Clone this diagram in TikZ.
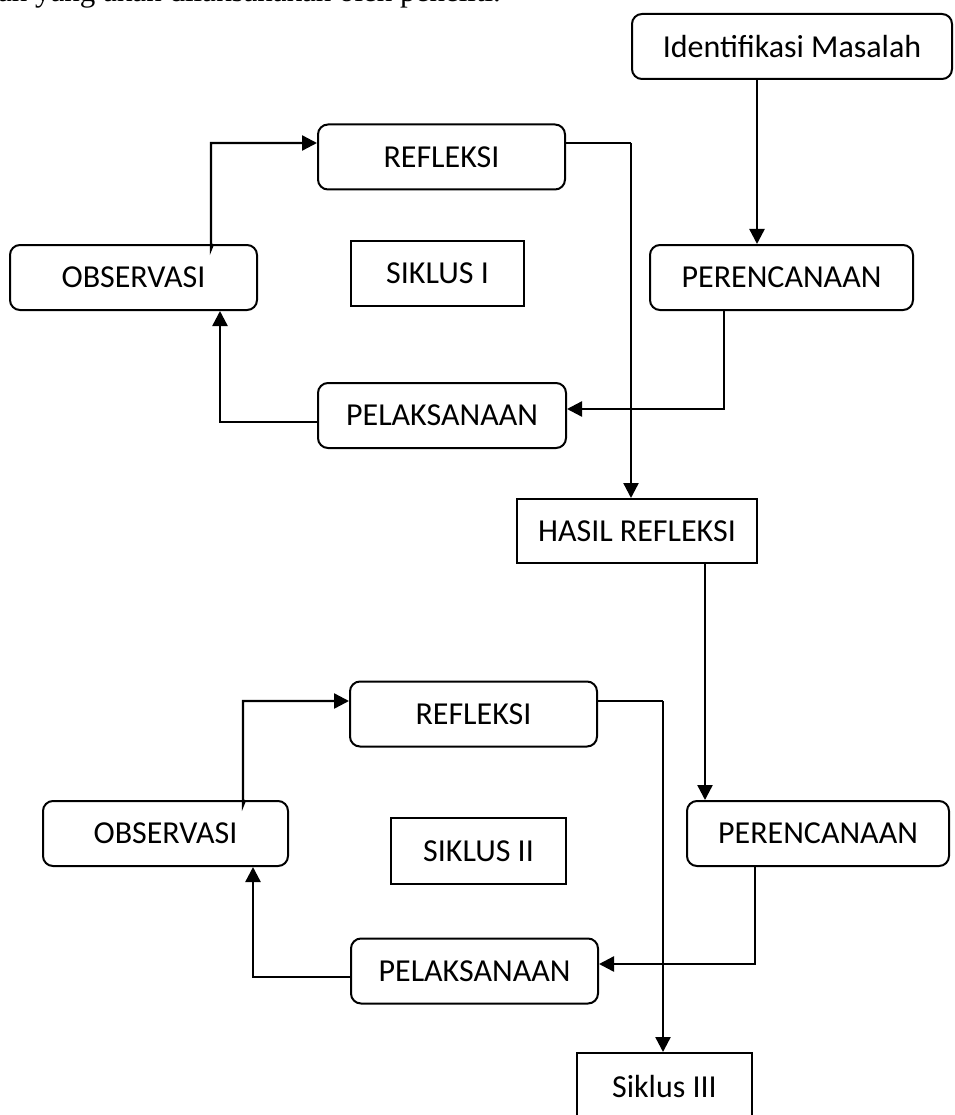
\documentclass[tikz,border=0pt]{standalone}
\usepackage{fontspec}
\setmainfont{Carlito}
\newfontfamily\introfont{Liberation Serif}
\usepackage{tikz}
\usetikzlibrary{arrows.meta,shapes}

\tikzset{
  box/.style={draw, line width=2pt, rounded corners=10pt, inner sep=0pt,
    minimum height=65pt, text depth=0pt, font=\fontsize{32}{38}\selectfont},
  sqbox/.style={box, rounded corners=0pt},
  arr/.style={line width=2.4pt, -{Triangle[length=15pt,width=15pt]}},
  thin/.style={line width=1.4pt}
}

\begin{document}
\begin{tikzpicture}[x=1pt,y=-1pt]
        \useasboundingbox (0,0) rectangle (954,1115);
        \clip (0,0) rectangle (954,1115);
        % cut-off line of the page text
        \node[anchor=base west, inner sep=0pt, font=\introfont\fontsize{31}{36}\selectfont] (intro) at (-2,2) {an yang akan dilaksanakan oleh peneliti.};
        % siklus I
        \node[box, minimum width=320pt] (ident) at (792,46.5) {Identifikasi Masalah};
        \node[box, minimum width=247pt] (ref1) at (441.5,157) {REFLEKSI};
        \node[box, minimum width=247pt] (obs1) at (133.5,277.5) {OBSERVASI};
        \node[sqbox, minimum width=173pt] (sik1) at (437.5,273.5) {SIKLUS I};
        \node[box, minimum width=263pt] (per1) at (781.5,277.5) {PERENCANAAN};
        \node[box, minimum width=248pt] (pel1) at (442,415.5) {PELAKSANAAN};
        \node[sqbox, minimum width=240pt, minimum height=64pt] (hasil) at (637,531) {HASIL REFLEKSI};
        % siklus II
        \node[box, minimum width=247pt] (ref2) at (473.5,714) {REFLEKSI};
        \node[box, minimum width=245pt] (obs2) at (165.5,833.5) {OBSERVASI};
        \node[sqbox, minimum width=175pt, minimum height=66pt] (sik2) at (478.5,851) {SIKLUS II};
        \node[box, minimum width=262pt] (per2) at (818,833.5) {PERENCANAAN};
        \node[box, minimum width=247pt] (pel2) at (474.5,971) {PELAKSANAAN};
        \node[sqbox, minimum width=175pt, minimum height=67pt] (sik3) at (664.5,1086.5) {Siklus III};

        % bends
        \coordinate (a1) at (757,0);
        \coordinate (a2) at (631,143);
        \coordinate (a3) at (211,143);
        \coordinate (a4) at (724,409);
        \coordinate (a5) at (220,422);
        \coordinate (a6) at (705,0);
        \coordinate (b2) at (663,701);
        \coordinate (b3) at (243,701);
        \coordinate (b4) at (755,964);
        \coordinate (b5) at (253,977);

        \draw[arr] (ident.south -| a1) -- (per1.north -| a1);
        \draw[thin] (ref1.east |- a2) -- (a2);
        \draw[arr] (a2) -- (hasil.north -| a2);
        \draw[arr] ([xshift=2pt]obs1.north -| a3) -- ([yshift=-5pt]obs1.north -| a3) -- (a3) -- (ref1.west |- a3);
        \draw[arr] (per1.south -| a4) -- (a4) -- (pel1.east |- a4);
        \draw[arr] (pel1.west |- a5) -- (a5) -- (obs1.south -| a5);

        \draw[arr] (hasil.south -| a6) -- (per2.north -| a6);
        \draw[thin] (ref2.east |- b2) -- (b2);
        \draw[arr] (b2) -- (sik3.north -| b2);
        \draw[arr] ([xshift=2pt]obs2.north -| b3) -- ([yshift=-5pt]obs2.north -| b3) -- (b3) -- (ref2.west |- b3);
        \draw[arr] (per2.south -| b4) -- (b4) -- (pel2.east |- b4);
        \draw[arr] (pel2.west |- b5) -- (b5) -- (obs2.south -| b5);
    \end{tikzpicture}
\end{document}
